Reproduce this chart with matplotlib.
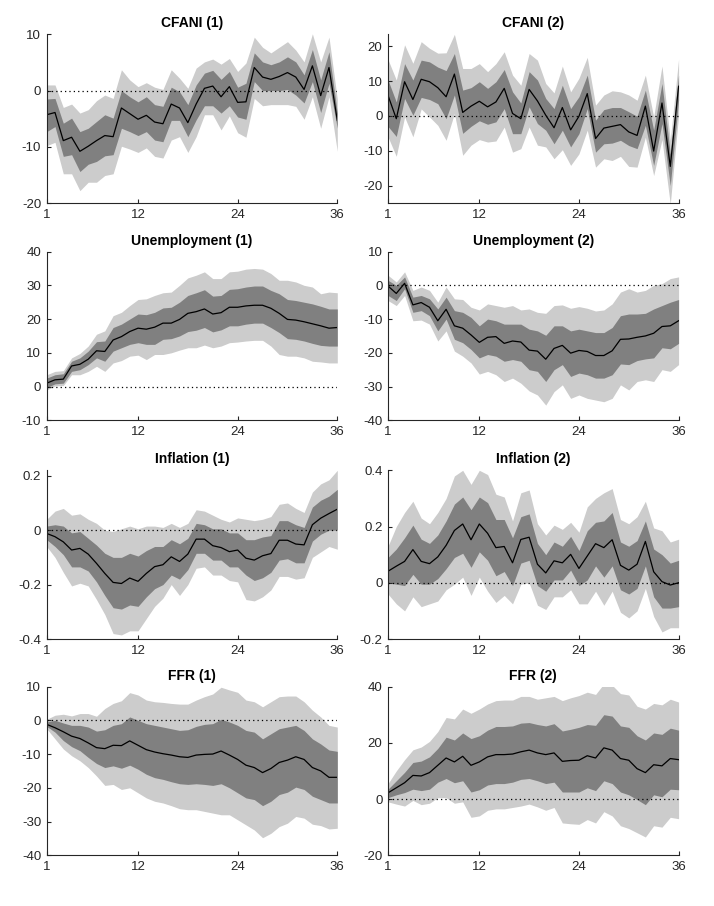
import numpy as np
import matplotlib
matplotlib.use('Agg')
import matplotlib.pyplot as plt

plt.rcParams['font.family'] = ['Liberation Sans', 'DejaVu Sans']

horizon = np.arange(1, 37)
xticks = [1, 12, 24, 36]

# CFANI (1)
cfani1_med = [-4.3, -3.9, -8.9, -8.3, -10.8, -9.9, -8.9, -8.0, -8.2, -3.1, -4.1, -5.1, -4.4, -5.6, -5.9, -2.4, -3.1, -5.7,
              -2.4, 0.4, 0.8, -1.1, 0.7, -2.1, -2.0, 4.1, 2.4, 2.0, 2.5, 3.2, 2.4, 0.2, 4.4, -0.9, 4.1, -5.3]
cfani1_dhi = [-1.5, -1.4, -5.8, -4.9, -7.3, -6.7, -5.5, -4.3, -4.9, 0.0, -1.1, -2.0, -1.1, -2.5, -2.8, 0.6, -0.2, -2.5,
              1.0, 3.1, 3.6, 2.0, 3.4, 0.6, 1.3, 6.7, 5.1, 4.6, 5.1, 6.0, 5.1, 2.8, 7.3, 1.9, 6.9, -4.0]
cfani1_dlo = [-7.3, -6.4, -11.7, -11.4, -14.4, -13.1, -12.6, -11.6, -11.4, -6.7, -7.3, -8.0, -7.3, -8.8, -9.1, -5.3, -5.3, -8.2,
              -5.2, -2.7, -2.7, -4.0, -2.7, -4.7, -5.1, 1.6, 0.0, 0.0, 0.0, 0.2, -0.8, -2.2, 1.6, -3.9, 1.3, -6.7]
cfani1_lhi = [1.0, 1.0, -3.0, -2.4, -4.0, -3.4, -1.8, -0.8, -1.4, 3.7, 1.9, 0.7, 1.4, 0.6, 0.2, 3.7, 2.2, 0.4,
              4.0, 5.1, 5.6, 4.7, 5.7, 3.4, 4.9, 9.5, 7.7, 6.7, 7.7, 8.7, 7.2, 5.1, 10.1, 5.1, 9.5, -1.5]
cfani1_llo = [-9.8, -9.2, -14.8, -14.8, -17.8, -16.3, -16.3, -15.1, -14.8, -9.9, -10.4, -11.0, -10.2, -11.7, -12.0, -8.8, -8.2, -11.0,
              -8.2, -4.3, -4.3, -7.0, -4.5, -7.5, -8.3, -1.4, -2.7, -2.5, -2.5, -2.5, -2.8, -5.1, -1.1, -6.7, -1.1, -10.8]

# CFANI (2)
cfani2_med = [5.9, -0.8, 9.8, 4.7, 10.5, 9.8, 8.1, 5.5, 12.0, 1.0, 2.8, 4.2, 2.6, 4.0, 7.9, 0.7, -0.8, 7.6,
              4.3, 0.2, -3.4, 2.4, -4.0, -0.1, 6.4, -6.5, -3.5, -3.0, -2.5, -4.6, -5.6, 2.8, -10.1, 3.7, -14.5, 8.5]
cfani2_dhi = [10.3, 4.0, 15.0, 10.3, 16.0, 15.5, 14.0, 13.0, 17.9, 7.4, 8.1, 9.8, 7.9, 9.8, 13.3, 6.9, 3.7, 12.7,
              10.3, 5.0, 2.1, 8.8, 2.1, 5.5, 11.7, -1.2, 1.8, 2.4, 2.4, 1.2, -0.1, 7.4, -4.1, 9.3, -10.9, 11.7]
cfani2_dlo = [-3.0, -5.9, 5.0, 0.2, 5.3, 4.7, 3.5, -0.8, 6.0, -5.0, -3.0, -1.4, -2.4, -1.7, 2.1, -5.1, -5.1, 2.6,
              -2.2, -4.1, -8.0, -4.1, -8.9, -5.1, 2.1, -10.4, -8.0, -7.8, -7.0, -8.5, -9.4, -2.7, -14.2, -2.2, -20.0, 4.5]
cfani2_lhi = [16.2, 10.3, 20.4, 15.1, 21.3, 19.4, 18.0, 18.1, 23.4, 13.6, 13.6, 15.0, 12.7, 15.0, 18.4, 11.7, 8.8, 17.9,
              16.0, 9.3, 6.6, 14.3, 6.9, 10.8, 16.8, 3.1, 6.0, 7.2, 6.9, 6.0, 4.5, 11.7, -0.3, 14.3, -7.0, 16.3]
cfani2_llo = [-6.0, -11.6, -0.3, -6.0, 2.0, -0.3, -2.7, -7.0, 0.7, -11.3, -8.4, -6.8, -7.5, -7.2, -3.2, -10.4, -9.4, -3.2,
              -8.4, -8.9, -12.3, -9.7, -14.2, -10.9, -4.1, -14.7, -12.3, -12.8, -11.6, -14.5, -14.7, -6.1, -17.1, -6.8, -25.3, 0.2]

# Unemployment (1)
unemp1_med = [1.0, 2.0, 2.2, 6.1, 6.6, 8.1, 10.6, 10.4, 13.8, 14.8, 16.3, 17.3, 17.0, 17.6, 18.8, 18.8, 19.9, 21.7,
              22.2, 23.0, 21.5, 21.9, 23.5, 23.5, 23.9, 24.1, 24.1, 23.2, 21.7, 19.9, 19.7, 19.2, 18.6, 18.0, 17.3, 17.5]
unemp1_dhi = [2.5, 3.5, 3.8, 7.5, 8.5, 10.5, 13.3, 13.5, 17.5, 18.5, 20.0, 21.5, 21.3, 22.0, 23.3, 23.5, 25.0, 27.0,
              27.8, 28.7, 26.8, 27.0, 28.8, 29.0, 29.5, 29.8, 29.8, 28.5, 27.5, 25.8, 25.5, 25.0, 24.5, 23.8, 23.0, 23.0]
unemp1_dlo = [-0.3, 0.8, 1.0, 4.5, 5.0, 6.5, 8.5, 7.5, 10.5, 11.5, 12.5, 13.0, 12.5, 12.5, 14.0, 14.2, 15.0, 16.3,
              16.7, 17.5, 16.2, 16.8, 18.0, 18.0, 18.5, 18.8, 18.8, 17.5, 16.0, 14.2, 14.0, 13.5, 12.8, 12.2, 12.0, 12.0]
unemp1_lhi = [3.5, 4.5, 4.7, 8.5, 9.8, 12.0, 15.5, 16.5, 21.0, 22.0, 24.0, 25.8, 26.0, 27.0, 27.8, 28.0, 30.0, 32.2,
              33.0, 34.0, 32.0, 32.0, 34.0, 34.2, 34.8, 35.0, 34.8, 33.5, 31.5, 31.5, 31.0, 30.0, 29.5, 27.5, 28.0, 27.8]
unemp1_llo = [-1.0, 0.2, 0.3, 3.5, 3.5, 4.5, 6.0, 4.5, 7.0, 7.7, 9.0, 9.3, 8.0, 9.5, 9.5, 10.0, 10.8, 11.5,
              11.5, 12.3, 11.5, 12.0, 13.0, 13.2, 13.5, 13.7, 13.7, 12.0, 9.5, 9.0, 9.0, 8.5, 7.5, 7.3, 7.0, 7.0]

# Unemployment (2)
unemp2_med = [-0.2, -2.4, 0.6, -5.8, -5.1, -6.5, -10.5, -7.1, -12.0, -12.7, -14.7, -16.9, -15.4, -15.2, -17.2, -16.5, -16.8, -19.2,
              -19.5, -21.9, -18.7, -17.8, -20.1, -19.3, -19.6, -20.8, -20.8, -19.4, -16.0, -15.9, -15.4, -15.0, -14.2, -12.2, -12.0, -10.5]
unemp2_dhi = [1.5, 0.0, 2.5, -3.5, -3.0, -4.0, -7.0, -3.5, -7.5, -8.0, -9.5, -12.0, -10.0, -10.5, -11.5, -11.5, -11.5, -13.0,
              -13.5, -14.8, -12.0, -12.0, -13.5, -13.0, -13.5, -14.0, -14.0, -12.5, -9.0, -8.5, -8.5, -8.3, -7.0, -6.0, -5.0, -4.2]
unemp2_dlo = [-3.0, -4.5, -1.0, -8.0, -7.5, -9.0, -13.5, -10.0, -16.0, -17.0, -19.0, -21.5, -20.5, -21.0, -22.5, -22.0, -22.5, -25.0,
              -25.5, -28.5, -25.0, -23.5, -27.0, -26.0, -26.5, -27.5, -27.5, -26.5, -23.3, -23.5, -22.3, -21.8, -21.5, -18.5, -18.8, -17.2]
unemp2_lhi = [3.0, 1.0, 4.0, -1.5, -0.5, -1.5, -5.0, -0.5, -4.0, -4.2, -6.5, -7.3, -5.5, -6.0, -6.5, -6.0, -7.3, -7.0,
              -8.0, -8.3, -6.0, -5.8, -6.8, -6.3, -6.8, -7.6, -7.3, -5.5, -2.0, -1.0, -2.0, -1.5, 0.0, 0.5, 2.0, 2.5]
unemp2_llo = [-4.5, -6.0, -3.0, -10.5, -10.3, -11.5, -16.5, -13.5, -19.5, -21.0, -23.0, -26.3, -25.5, -26.5, -28.5, -27.5, -29.0, -31.3,
              -32.5, -35.5, -31.5, -29.5, -33.5, -32.5, -33.5, -34.0, -34.5, -33.5, -29.5, -31.0, -28.5, -28.0, -28.5, -25.0, -25.5, -23.5]

# Inflation (1)
infl1_med = [-0.012, -0.024, -0.043, -0.073, -0.067, -0.088, -0.122, -0.159, -0.192, -0.196, -0.176, -0.188, -0.159, -0.134, -0.127, -0.098, -0.115, -0.088,
             -0.033, -0.033, -0.057, -0.064, -0.079, -0.073, -0.103, -0.110, -0.094, -0.086, -0.037, -0.037, -0.051, -0.054, 0.020, 0.044, 0.061, 0.077]
infl1_dhi = [0.015, 0.02, 0.015, -0.01, -0.005, -0.03, -0.055, -0.085, -0.1, -0.1, -0.085, -0.095, -0.075, -0.06, -0.06, -0.035, -0.05, -0.03,
             0.025, 0.02, 0.005, 0.005, -0.01, -0.01, -0.035, -0.035, -0.025, -0.02, 0.035, 0.035, 0.02, 0.01, 0.085, 0.11, 0.125, 0.15]
infl1_dlo = [-0.035, -0.06, -0.09, -0.135, -0.135, -0.15, -0.19, -0.24, -0.285, -0.29, -0.275, -0.28, -0.245, -0.215, -0.2, -0.165, -0.18, -0.145,
             -0.085, -0.085, -0.11, -0.11, -0.135, -0.135, -0.165, -0.185, -0.175, -0.155, -0.11, -0.105, -0.12, -0.12, -0.04, -0.015, 0.0, 0.0]
infl1_lhi = [0.04, 0.07, 0.08, 0.055, 0.06, 0.04, 0.025, 0.0, -0.005, 0.005, 0.015, 0.005, 0.015, 0.015, 0.01, 0.025, 0.01, 0.025,
             0.075, 0.07, 0.055, 0.04, 0.03, 0.045, 0.04, 0.035, 0.04, 0.05, 0.095, 0.1, 0.08, 0.065, 0.14, 0.17, 0.185, 0.22]
infl1_llo = [-0.06, -0.1, -0.155, -0.205, -0.195, -0.205, -0.255, -0.31, -0.38, -0.385, -0.37, -0.37, -0.325, -0.28, -0.25, -0.2, -0.24, -0.2,
             -0.14, -0.135, -0.165, -0.165, -0.185, -0.19, -0.255, -0.26, -0.245, -0.22, -0.17, -0.17, -0.18, -0.175, -0.1, -0.08, -0.06, -0.07]

# Inflation (2)
infl2_med = [0.041, 0.059, 0.076, 0.118, 0.076, 0.068, 0.092, 0.133, 0.186, 0.209, 0.153, 0.209, 0.176, 0.125, 0.129, 0.071, 0.154, 0.162,
             0.066, 0.035, 0.078, 0.071, 0.101, 0.051, 0.095, 0.139, 0.125, 0.153, 0.062, 0.045, 0.066, 0.147, 0.039, 0.004, -0.008, 0.0]
infl2_dhi = [0.09, 0.12, 0.16, 0.205, 0.155, 0.14, 0.17, 0.22, 0.28, 0.305, 0.26, 0.305, 0.285, 0.225, 0.225, 0.16, 0.235, 0.245,
             0.14, 0.1, 0.145, 0.13, 0.165, 0.115, 0.185, 0.215, 0.22, 0.25, 0.145, 0.13, 0.15, 0.22, 0.12, 0.1, 0.07, 0.08]
infl2_dlo = [0.0, -0.005, -0.01, 0.03, -0.005, -0.005, 0.015, 0.05, 0.09, 0.105, 0.055, 0.11, 0.08, 0.025, 0.04, -0.01, 0.07, 0.08,
             -0.01, -0.03, 0.01, 0.01, 0.045, -0.01, 0.01, 0.06, 0.02, 0.06, -0.025, -0.04, -0.02, 0.06, -0.05, -0.09, -0.09, -0.085]
infl2_lhi = [0.13, 0.2, 0.25, 0.29, 0.23, 0.21, 0.25, 0.3, 0.38, 0.4, 0.35, 0.4, 0.385, 0.315, 0.305, 0.22, 0.32, 0.33,
             0.21, 0.17, 0.205, 0.19, 0.215, 0.18, 0.27, 0.3, 0.32, 0.335, 0.225, 0.21, 0.235, 0.29, 0.195, 0.185, 0.145, 0.155]
infl2_llo = [-0.04, -0.075, -0.1, -0.05, -0.085, -0.075, -0.065, -0.025, -0.005, 0.02, -0.045, 0.02, -0.03, -0.07, -0.045, -0.075, -0.005, 0.0,
             -0.08, -0.095, -0.05, -0.05, -0.025, -0.075, -0.075, -0.03, -0.08, -0.03, -0.105, -0.125, -0.1, -0.02, -0.12, -0.175, -0.16, -0.16]

# FFR (1)
ffr1_med = [-1.2, -2.2, -3.4, -4.7, -5.4, -6.7, -8.1, -8.4, -7.4, -7.5, -6.1, -7.4, -8.7, -9.4, -9.9, -10.3, -10.8, -11.0,
            -10.3, -10.1, -10.0, -9.1, -10.3, -11.6, -13.3, -14.0, -15.5, -14.3, -12.5, -11.8, -10.8, -11.6, -14.0, -15.0, -16.9, -16.9]
ffr1_dhi = [-0.5, 0.0, -0.8, -1.5, -1.5, -2.0, -3.2, -2.8, -1.5, -1.0, 1.0, 0.0, -1.0, -1.5, -2.0, -2.5, -3.0, -2.8,
            -1.8, -1.2, -1.0, 0.3, -0.5, -1.5, -3.0, -3.5, -5.5, -4.0, -2.5, -2.0, -1.5, -3.0, -5.5, -7.0, -8.8, -9.2]
ffr1_dlo = [-1.8, -3.5, -6.0, -7.8, -9.0, -11.0, -12.8, -14.0, -13.5, -14.2, -13.3, -14.5, -16.0, -17.0, -17.5, -18.2, -18.8, -19.0,
            -18.8, -19.0, -19.3, -18.8, -20.0, -21.5, -23.0, -23.5, -25.3, -24.0, -22.0, -21.3, -19.8, -20.5, -22.5, -23.5, -24.5, -24.5]
ffr1_lhi = [0.3, 1.5, 1.8, 1.3, 2.0, 2.0, 1.2, 3.5, 5.0, 5.8, 8.2, 7.5, 6.0, 5.5, 5.3, 5.0, 4.8, 4.8,
            6.0, 7.0, 7.8, 9.8, 9.0, 8.3, 6.0, 5.5, 4.0, 5.5, 7.0, 7.2, 7.2, 5.5, 3.0, 1.0, -1.5, -2.0]
ffr1_llo = [-2.5, -5.5, -8.5, -10.5, -12.0, -14.0, -16.5, -19.3, -19.0, -20.5, -20.0, -21.5, -23.0, -24.0, -24.5, -25.3, -26.2, -26.5,
            -26.5, -27.0, -27.5, -28.0, -28.0, -29.5, -31.0, -32.5, -34.8, -33.5, -31.5, -30.5, -28.5, -29.0, -30.8, -31.2, -32.2, -32.0]

# FFR (2)
ffr2_med = [2.2, 4.0, 5.8, 8.4, 8.2, 9.4, 12.0, 14.6, 13.2, 15.2, 12.0, 13.2, 15.0, 15.8, 15.8, 16.0, 16.8, 17.4,
            16.4, 15.8, 16.4, 13.4, 13.7, 13.8, 15.4, 14.6, 18.2, 17.4, 14.4, 13.8, 10.8, 9.4, 12.2, 11.8, 14.4, 14.0]
ffr2_dhi = [3.5, 6.5, 9.5, 13.0, 13.5, 15.0, 18.0, 22.0, 21.0, 23.5, 21.5, 22.5, 24.5, 25.8, 25.8, 26.0, 27.0, 27.2,
            26.5, 26.0, 26.8, 24.2, 24.8, 25.5, 26.5, 26.2, 30.0, 29.5, 26.0, 25.5, 22.5, 21.0, 23.5, 23.0, 25.2, 24.5]
ffr2_dlo = [0.5, 1.5, 2.3, 3.5, 3.0, 3.5, 6.0, 7.3, 5.8, 6.5, 2.5, 3.3, 5.0, 5.5, 5.5, 6.0, 7.0, 7.3,
            6.5, 5.5, 6.0, 2.5, 2.5, 2.5, 4.0, 3.0, 6.5, 5.5, 2.5, 1.5, -0.2, -2.0, 1.5, 0.8, 3.5, 3.3]
ffr2_lhi = [5.5, 10.0, 14.0, 17.5, 18.5, 20.5, 24.0, 29.0, 28.5, 32.0, 30.5, 32.0, 33.8, 35.0, 35.2, 35.2, 36.5, 36.5,
            35.5, 36.0, 36.5, 35.0, 36.0, 36.8, 38.0, 37.2, 41.0, 40.5, 37.5, 37.0, 33.0, 32.0, 34.0, 33.5, 35.5, 34.5]
ffr2_llo = [-1.0, -1.8, -2.5, -0.5, -2.0, -1.5, 0.5, 0.5, -1.5, -1.0, -6.5, -6.0, -4.0, -3.5, -3.5, -3.0, -2.5, -1.8,
            -2.8, -4.0, -3.0, -8.5, -8.8, -9.0, -7.3, -8.5, -4.5, -6.0, -9.5, -10.5, -12.0, -13.5, -9.5, -10.0, -6.5, -7.0]

panels = [
    ('CFANI (1)', cfani1_med, cfani1_dlo, cfani1_dhi, cfani1_llo, cfani1_lhi, (-20, 10), [-20, -10, 0, 10]),
    ('CFANI (2)', cfani2_med, cfani2_dlo, cfani2_dhi, cfani2_llo, cfani2_lhi, (-25, 23.4), [-20, -10, 0, 10, 20]),
    ('Unemployment (1)', unemp1_med, unemp1_dlo, unemp1_dhi, unemp1_llo, unemp1_lhi, (-10, 40), [-10, 0, 10, 20, 30, 40]),
    ('Unemployment (2)', unemp2_med, unemp2_dlo, unemp2_dhi, unemp2_llo, unemp2_lhi, (-40, 10), [-40, -30, -20, -10, 0, 10]),
    ('Inflation (1)', infl1_med, infl1_dlo, infl1_dhi, infl1_llo, infl1_lhi, (-0.4, 0.22), [-0.4, -0.2, 0, 0.2]),
    ('Inflation (2)', infl2_med, infl2_dlo, infl2_dhi, infl2_llo, infl2_lhi, (-0.2, 0.4), [-0.2, 0, 0.2, 0.4]),
    ('FFR (1)', ffr1_med, ffr1_dlo, ffr1_dhi, ffr1_llo, ffr1_lhi, (-40, 10), [-40, -30, -20, -10, 0, 10]),
    ('FFR (2)', ffr2_med, ffr2_dlo, ffr2_dhi, ffr2_llo, ffr2_lhi, (-20, 40), [-20, 0, 20, 40]),
]

fig = plt.figure(figsize=(7.14, 9.06), dpi=100)

lefts = [0.0654, 0.5434]
bottoms = [0.7759, 0.5361, 0.2947, 0.0560]
width = 0.4070
height = 0.1862

for i, (title, med, dlo, dhi, llo, lhi, ylim, yticks) in enumerate(panels):
    row, col = divmod(i, 2)
    ax = fig.add_axes([lefts[col], bottoms[row], width, height])
    ax.fill_between(horizon, llo, lhi, color='#cccccc', linewidth=0)
    ax.fill_between(horizon, dlo, dhi, color='#808080', linewidth=0)
    ax.plot([1, 36], [0, 0], color='black', linestyle=(0, (1, 2.5)), linewidth=0.9)
    ax.plot(horizon, med, color='black', linewidth=0.9)
    ax.set_xlim(1, 36)
    ax.set_ylim(*ylim)
    ax.set_xticks(xticks)
    ax.set_yticks(yticks)
    ax.set_yticklabels([('%g' % t) for t in yticks])
    ax.spines['top'].set_visible(False)
    ax.spines['right'].set_visible(False)
    for s in ['left', 'bottom']:
        ax.spines[s].set_color('#262626')
        ax.spines[s].set_linewidth(0.8)
    ax.tick_params(direction='in', length=3, width=0.8, colors='#262626', labelsize=9.5, pad=4)
    ax.set_title(title, fontsize=10, fontweight='bold', pad=5)

fig.savefig('out.png', dpi=100)
